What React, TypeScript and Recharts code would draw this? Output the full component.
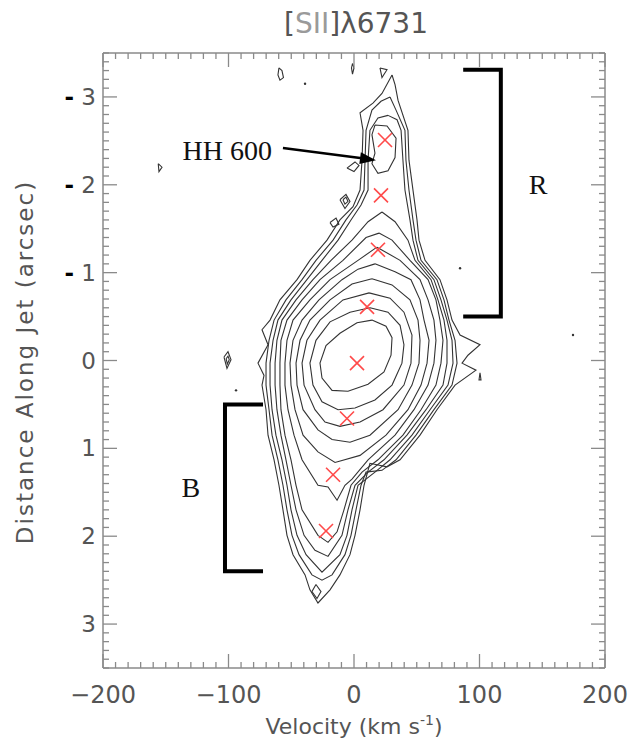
import React from 'react';
import { ScatterChart, Scatter, XAxis, YAxis, Customized } from 'recharts';

type Pt = [number, number];

// ---------- axis tick labels ----------
const xTickLabels = [-200, -100, 0, 100, 200];
const yTickLabels = [-3, -2, -1, 0, 1, 2, 3];

// ---------- contours (velocity km/s, distance arcsec), outer -> inner ----------
const contour1: Pt[] = [
  [30.3, -3.25], [32.7, -3.14], [35.1, -2.96], [43.0, -2.62], [43.8, -2.28], [47.0, -1.94], [50.2, -1.6],
  [51.8, -1.37], [56.6, -1.14], [68.5, -0.92], [74.1, -0.69], [78.1, -0.46], [84.5, -0.29], [100.4, -0.18],
  [90.8, -0.06], [86.1, 0.03], [97.2, 0.11], [80.5, 0.28], [66.1, 0.56], [52.6, 0.85], [36.7, 1.13],
  [26.3, 1.21], [12.7, 1.17], [8.0, 1.42], [4.8, 1.7], [0.8, 1.99], [-3.2, 2.21], [-11.2, 2.44],
  [-19.1, 2.61], [-28.7, 2.76], [-35.1, 2.61], [-39.0, 2.44], [-48.6, 2.21], [-53.4, 1.99], [-56.6, 1.7],
  [-59.8, 1.42], [-63.7, 1.13], [-68.5, 0.85], [-70.1, 0.56], [-73.3, 0.28], [-71.7, 0.17], [-76.5, 0.03],
  [-68.5, -0.18], [-73.3, -0.35], [-66.9, -0.46], [-59.0, -0.69], [-45.4, -0.92], [-35.1, -1.14],
  [-21.5, -1.37], [-11.2, -1.6], [-0.8, -1.75], [4.8, -1.94], [6.4, -2.28], [7.2, -2.62], [4.8, -2.82],
  [15.1, -2.93], [22.3, -3.04],
];
const contour2: Pt[] = [
  [28.7, -3.0], [33.5, -2.85], [40.6, -2.62], [41.4, -2.28], [43.8, -1.94], [47.0, -1.6], [49.4, -1.37],
  [53.4, -1.14], [66.1, -0.92], [71.7, -0.69], [75.7, -0.46], [80.5, -0.23], [82.1, 0.03], [78.1, 0.28],
  [63.7, 0.56], [49.4, 0.85], [33.5, 1.13], [22.3, 1.25], [9.6, 1.27], [5.6, 1.42], [1.6, 1.7],
  [-2.4, 1.99], [-7.2, 2.21], [-17.5, 2.44], [-25.5, 2.5], [-33.5, 2.44], [-43.8, 2.21], [-49.4, 1.99],
  [-53.4, 1.7], [-56.6, 1.42], [-60.6, 1.13], [-65.3, 0.85], [-67.7, 0.56], [-70.1, 0.28], [-70.1, 0.03],
  [-67.7, -0.23], [-63.7, -0.46], [-54.2, -0.69], [-41.4, -0.92], [-30.3, -1.14], [-16.7, -1.37],
  [-6.4, -1.6], [2.4, -1.77], [8.0, -1.94], [8.8, -2.28], [9.6, -2.62], [14.3, -2.85], [21.5, -2.95],
];
const contour3: Pt[] = [
  [27.1, -2.79], [34.3, -2.74], [37.5, -2.62], [39.0, -2.28], [40.6, -1.94], [44.6, -1.6], [47.0, -1.37],
  [51.0, -1.14], [63.7, -0.92], [69.3, -0.69], [74.1, -0.46], [78.1, -0.23], [78.9, 0.03], [74.9, 0.28],
  [60.6, 0.56], [46.2, 0.85], [28.7, 1.13], [16.7, 1.27], [3.2, 1.42], [-1.6, 1.7], [-5.6, 1.99],
  [-11.2, 2.21], [-25.5, 2.41], [-38.2, 2.21], [-45.4, 1.99], [-50.2, 1.7], [-53.4, 1.42], [-57.4, 1.13],
  [-62.2, 0.85], [-65.3, 0.56], [-66.9, 0.28], [-66.9, 0.03], [-64.5, -0.23], [-60.6, -0.46],
  [-50.2, -0.69], [-37.5, -0.92], [-25.5, -1.14], [-12.7, -1.37], [-2.4, -1.6], [5.6, -1.77],
  [11.2, -1.94], [11.2, -2.28], [12.7, -2.62], [19.1, -2.76],
];
const contour4: Pt[] = [
  [22.3, -1.69], [32.7, -1.58], [43.0, -1.37], [48.6, -1.14], [61.4, -0.92], [66.9, -0.69], [71.7, -0.46],
  [74.1, -0.23], [74.1, 0.03], [70.9, 0.28], [57.4, 0.56], [42.2, 0.85], [23.9, 1.13], [11.2, 1.27],
  [0.8, 1.42], [-4.8, 1.7], [-9.6, 1.99], [-20.7, 2.23], [-31.1, 2.16], [-39.8, 1.99], [-46.2, 1.7],
  [-50.2, 1.42], [-54.2, 1.13], [-58.2, 0.85], [-61.4, 0.56], [-62.9, 0.28], [-62.9, 0.03], [-61.4, -0.23],
  [-57.4, -0.46], [-46.2, -0.69], [-32.7, -0.92], [-18.3, -1.14], [-1.6, -1.37], [11.2, -1.58],
];
const contour5: Pt[] = [
  [19.9, -1.45], [30.3, -1.37], [44.6, -1.14], [59.0, -0.92], [65.3, -0.69], [68.5, -0.46], [70.9, -0.23],
  [69.3, 0.03], [65.3, 0.28], [53.4, 0.56], [39.0, 0.85], [19.1, 1.13], [6.4, 1.27], [-2.4, 1.42],
  [-8.0, 1.7], [-13.5, 1.95], [-20.7, 2.07], [-28.7, 1.99], [-41.4, 1.7], [-46.2, 1.42], [-50.2, 1.13],
  [-55.0, 0.85], [-58.2, 0.56], [-59.0, 0.28], [-59.0, 0.03], [-58.2, -0.23], [-53.4, -0.46],
  [-41.4, -0.69], [-27.1, -0.92], [-8.8, -1.14], [9.6, -1.4],
];
const contour6: Pt[] = [
  [18.3, -1.29], [36.7, -1.14], [52.6, -0.92], [59.0, -0.69], [63.7, -0.46], [65.3, -0.23], [63.7, 0.03],
  [59.0, 0.28], [47.8, 0.56], [32.7, 0.85], [11.2, 1.13], [-1.6, 1.35], [-7.2, 1.42], [-13.5, 1.59],
  [-20.7, 1.44], [-28.7, 1.42], [-41.4, 1.13], [-47.8, 0.85], [-52.6, 0.56], [-55.0, 0.28], [-55.0, 0.03],
  [-53.4, -0.23], [-48.6, -0.46], [-35.1, -0.69], [-19.1, -0.92], [3.2, -1.14],
];
const contour7: Pt[] = [
  [16.7, -1.1], [32.7, -1.01], [45.4, -0.92], [52.6, -0.69], [55.8, -0.46], [59.8, -0.23], [58.2, 0.03],
  [53.4, 0.28], [43.0, 0.56], [25.5, 0.85], [4.8, 1.08], [-15.1, 1.16], [-28.7, 1.04], [-40.6, 0.85],
  [-47.0, 0.56], [-50.2, 0.28], [-51.0, 0.03], [-48.6, -0.23], [-41.4, -0.46], [-27.9, -0.69],
  [-9.6, -0.92], [3.2, -1.04],
];
const contour8: Pt[] = [
  [14.3, -0.93], [30.3, -0.86], [44.6, -0.69], [51.0, -0.46], [52.6, -0.23], [51.8, 0.03], [46.2, 0.28],
  [35.1, 0.56], [12.7, 0.85], [-3.2, 0.93], [-17.5, 0.9], [-28.7, 0.79], [-40.6, 0.56], [-45.4, 0.28],
  [-46.2, 0.03], [-43.0, -0.23], [-35.1, -0.46], [-19.1, -0.69], [-1.6, -0.87],
];
const contour9: Pt[] = [
  [12.0, -0.77], [28.7, -0.71], [39.8, -0.55], [46.2, -0.29], [45.4, 0.03], [39.8, 0.28], [23.1, 0.56],
  [4.8, 0.7], [-11.2, 0.75], [-23.1, 0.7], [-31.1, 0.56], [-39.8, 0.28], [-41.4, 0.03], [-37.5, -0.23],
  [-27.1, -0.46], [-8.8, -0.69],
];
const contour10: Pt[] = [
  [12.7, -0.6], [27.1, -0.55], [36.7, -0.4], [39.8, -0.18], [38.2, 0.03], [30.3, 0.28], [16.7, 0.45],
  [0.8, 0.54], [-12.7, 0.56], [-25.5, 0.47], [-32.7, 0.28], [-35.1, 0.03], [-30.3, -0.23], [-19.1, -0.44],
  [-3.2, -0.55],
];
const contour11: Pt[] = [
  [14.3, -0.46], [25.5, -0.39], [30.3, -0.26], [29.5, -0.06], [23.9, 0.13], [11.2, 0.27], [-4.8, 0.35],
  [-17.5, 0.34], [-25.5, 0.2], [-27.1, 0.03], [-22.3, -0.17], [-11.2, -0.31], [2.4, -0.43],
];

// small closed islands
const islandHH600: Pt[] = [
  [16.7, -2.68], [26.3, -2.67], [33.5, -2.53], [32.7, -2.31], [27.1, -2.16], [19.1, -2.13], [14.3, -2.24],
  [16.7, -2.36], [14.3, -2.57],
];
const islandTail: Pt[] = [[-30.3, 2.55], [-26.3, 2.63], [-29.5, 2.71], [-33.5, 2.63]];
const islandA: Pt[] = [[-5.6, -2.19], [0.8, -2.26], [4.0, -2.22], [0.0, -2.15]];
const islandB: Pt[] = [[-11.2, -1.83], [-6.4, -1.89], [-3.2, -1.81], [-7.2, -1.73]];
const islandB2: Pt[] = [[-8.8, -1.83], [-6.4, -1.86], [-4.8, -1.81], [-7.2, -1.78]];
const islandC: Pt[] = [[-19.1, -1.57], [-14.3, -1.62], [-12.0, -1.55], [-16.7, -1.52]];
const islandTopDrop: Pt[] = [[-59.8, -3.33], [-57.4, -3.3], [-56.2, -3.22], [-59.0, -3.19], [-60.6, -3.25]];
const islandTopThin: Pt[] = [[-1.2, -3.38], [0.0, -3.33], [-1.2, -3.26], [-2.0, -3.33]];
const islandTopTri: Pt[] = [[20.7, -3.33], [26.3, -3.31], [22.3, -3.22]];
const islandLeft: Pt[] = [[-103.6, -0.04], [-100.4, -0.1], [-98.0, -0.01], [-101.2, 0.09]];
const islandLeft2: Pt[] = [[-101.9, -0.02], [-100.4, -0.05], [-99.4, -0.01], [-100.9, 0.04]];
const islandFar: Pt[] = [[-156.0, -2.24], [-153.0, -2.2], [-155.4, -2.15]];
const islandRight: Pt[] = [[100.4, 0.14], [101.2, 0.22], [99.6, 0.22]];

const contours: Pt[][] = [
  contour1, contour2, contour3, contour4, contour5, contour6, contour7, contour8, contour9, contour10,
  contour11, islandHH600, islandTail, islandA, islandB, islandB2, islandC, islandTopDrop, islandTopThin,
  islandTopTri, islandLeft, islandLeft2, islandFar, islandRight,
];

const specks: Pt[] = [[-39.0, -3.15], [-94.0, 0.34], [174.5, -0.29], [84.5, -1.05]];

// red crosses: knot positions
const knots: Pt[] = [
  [24.7, -2.51], [21.5, -1.88], [19.1, -1.26], [10.4, -0.61], [2.4, 0.03], [-5.6, 0.66], [-16.7, 1.3],
  [-22.3, 1.94],
];

// annotations
const bracketR: Pt[] = [[87, -3.31], [117, -3.31], [117, -0.5], [87, -0.5]];
const bracketB: Pt[] = [[-72.5, 0.5], [-102.8, 0.5], [-102.8, 2.4], [-72.5, 2.4]];
const arrowShaft: Pt[] = [[-56.6, -2.42], [8.0, -2.3]];
const arrowTip: Pt[] = [[17.5, -2.28]];
const labelNames = ['HH 600', 'R', 'B'];
const labelPos: Pt[] = [[-65.3, -2.39], [146.6, -2.0], [-130.0, 1.45]];
const labelAnchor = ['end', 'middle', 'middle'];

// ---------- rendering helpers ----------
const FRAME = '#8a8a8a';
const TXT = '#555';
const xTicks: number[] = [];
for (let i = -20; i <= 20; i++) xTicks.push(i * 10);
const yTicks: number[] = [];
for (let i = -35; i <= 35; i++) yTicks.push(i / 10);

const toObj = (pts: Pt[], close: boolean) => {
  const arr = pts.map(([x, y]) => ({ x, y }));
  if (close) arr.push({ x: pts[0][0], y: pts[0][1] });
  return arr;
};

const NoShape = () => <g />;

const BottomTick = (p: any) => {
  const v = Math.round(p.payload.value);
  const major = xTickLabels.includes(v);
  return (
    <g>
      <line x1={p.x} x2={p.x} y1={p.y} y2={p.y - (major ? 14 : 6)} stroke={FRAME} strokeWidth={1.3} />
      {major && (
        <text x={p.x} y={p.y + 35} textAnchor="middle" fontSize={24} fontFamily="DejaVu Sans" fill={TXT}>
          {v < 0 ? '\u2212' + Math.abs(v) : String(v)}
        </text>
      )}
    </g>
  );
};
const TopTick = (p: any) => {
  const v = Math.round(p.payload.value);
  const major = xTickLabels.includes(v);
  return <line x1={p.x} x2={p.x} y1={p.y} y2={p.y + (major ? 14 : 6)} stroke={FRAME} strokeWidth={1.3} />;
};
const LeftTick = (p: any) => {
  const v = Math.round(p.payload.value * 10) / 10;
  const major = yTickLabels.includes(v);
  return (
    <g>
      <line x1={p.x} x2={p.x + (major ? 14 : 6)} y1={p.y} y2={p.y} stroke={FRAME} strokeWidth={1.3} />
      {major && (
        <text x={p.x - 7} y={p.y + 8} textAnchor="end" fontSize={23} fontFamily="DejaVu Sans" fill={TXT}>
          {v < 0 ? (
            <>
              <tspan fill="#000" fontWeight="bold">-</tspan>
              <tspan>{' ' + Math.abs(v)}</tspan>
            </>
          ) : (
            String(v)
          )}
        </text>
      )}
    </g>
  );
};
const RightTick = (p: any) => {
  const v = Math.round(p.payload.value * 10) / 10;
  const major = yTickLabels.includes(v);
  return <line x1={p.x} x2={p.x - (major ? 14 : 6)} y1={p.y} y2={p.y} stroke={FRAME} strokeWidth={1.3} />;
};

const Cross = (p: any) => {
  const { cx, cy } = p;
  const s = 7;
  return (
    <g stroke="#ff4a4a" strokeWidth={1.6}>
      <line x1={cx - s} y1={cy - s} x2={cx + s} y2={cy + s} />
      <line x1={cx - s} y1={cy + s} x2={cx + s} y2={cy - s} />
    </g>
  );
};
const Speck = (p: any) => <circle cx={p.cx} cy={p.cy} r={1.2} fill="#333" />;
const ArrowHead = (p: any) => (
  <polygon points="0,0 -16,-6 -16,6" fill="#000" transform={`translate(${p.cx},${p.cy}) rotate(7.4)`} />
);
const LabelText = (p: any) => (
  <text x={p.cx} y={p.cy} textAnchor={p.payload.anchor} dominantBaseline="central" fontSize={28}
    fontFamily="Liberation Serif" fill="#111">
    {p.payload.text}
  </text>
);

const Titles = () => (
  <g fontFamily="DejaVu Sans" fill={TXT}>
    <text x={356} y={33} textAnchor="middle" fontSize={28}>
      <tspan>[</tspan>
      <tspan fill="#9a9a9a">SII</tspan>
      <tspan>]λ6731</tspan>
    </text>
    <text x={354} y={734} textAnchor="middle" fontSize={22}>
      Velocity (km s<tspan dy={-9} fontSize={14}>-1</tspan>
      <tspan dy={9}>)</tspan>
    </text>
    <text transform="rotate(-90)" x={-362} y={33} textAnchor="middle" fontSize={23} letterSpacing={2}>
      Distance Along Jet (arcsec)
    </text>
  </g>
);

const labelData = labelNames.map((t, i) => ({ x: labelPos[i][0], y: labelPos[i][1], text: t, anchor: labelAnchor[i] }));

export default function App() {
  const common = { xAxisId: 'b', yAxisId: 'l', isAnimationActive: false } as const;
  return (
    <div style={{ position: 'absolute', left: 0, top: 0, width: 629, height: 746, background: '#fff' }}>
      <ScatterChart width={629} height={746} margin={{ top: 52, right: 23, bottom: 77, left: 102 }}>
        <XAxis xAxisId="b" dataKey="x" type="number" domain={[-200, 200]} allowDataOverflow ticks={xTicks}
          interval={0} height={1} tickSize={0} tickMargin={0} tickLine={false}
          axisLine={{ stroke: FRAME, strokeWidth: 1.5 }} tick={BottomTick} />
        <XAxis xAxisId="t" orientation="top" dataKey="x" type="number" domain={[-200, 200]} allowDataOverflow
          ticks={xTicks} interval={0} height={1} tickSize={0} tickMargin={0} tickLine={false}
          axisLine={{ stroke: FRAME, strokeWidth: 1.5 }} tick={TopTick} />
        <YAxis yAxisId="l" dataKey="y" type="number" domain={[-3.5, 3.5]} reversed allowDataOverflow
          ticks={yTicks} interval={0} width={1} tickSize={0} tickMargin={0} tickLine={false}
          axisLine={{ stroke: FRAME, strokeWidth: 1.5 }} tick={LeftTick} />
        <YAxis yAxisId="r" orientation="right" dataKey="y" type="number" domain={[-3.5, 3.5]} reversed
          allowDataOverflow ticks={yTicks} interval={0} width={1} tickSize={0} tickMargin={0} tickLine={false}
          axisLine={{ stroke: FRAME, strokeWidth: 1.5 }} tick={RightTick} />
        {contours.map((c, i) => (
          <Scatter key={'c' + i} {...common} data={toObj(c, true)} shape={NoShape}
            line={{ stroke: '#333', strokeWidth: 1.1 }} lineType="joint" />
        ))}
        <Scatter {...common} data={toObj(specks, false)} shape={Speck} />
        <Scatter {...common} data={toObj(bracketR, false)} shape={NoShape}
          line={{ stroke: '#000', strokeWidth: 4 }} lineType="joint" />
        <Scatter {...common} data={toObj(bracketB, false)} shape={NoShape}
          line={{ stroke: '#000', strokeWidth: 4 }} lineType="joint" />
        <Scatter {...common} data={toObj(arrowShaft, false)} shape={NoShape}
          line={{ stroke: '#000', strokeWidth: 2.5 }} lineType="joint" />
        <Scatter {...common} data={toObj(arrowTip, false)} shape={ArrowHead} />
        <Scatter {...common} data={toObj(knots, false)} shape={Cross} />
        <Scatter {...common} data={labelData} shape={LabelText} />
        <Customized component={Titles} />
      </ScatterChart>
    </div>
  );
}
